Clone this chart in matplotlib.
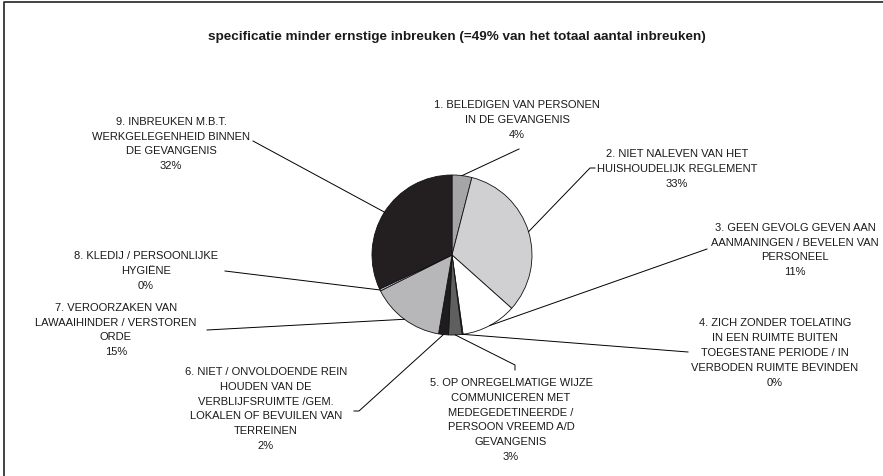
import numpy as np
import matplotlib
matplotlib.use("Agg")
import matplotlib.pyplot as plt

# categories and their share (%) of the minor infringements
categories = [
    "1. BELEDIGEN VAN PERSONEN\nIN DE GEVANGENIS",
    "2. NIET NALEVEN VAN HET\nHUISHOUDELIJK REGLEMENT",
    "3. GEEN GEVOLG GEVEN AAN\nAANMANINGEN / BEVELEN VAN\nPERSONEEL",
    "4. ZICH ZONDER TOELATING\nIN EEN RUIMTE BUITEN\nTOEGESTANE PERIODE / IN\nVERBODEN RUIMTE BEVINDEN",
    "5. OP ONREGELMATIGE WIJZE\nCOMMUNICEREN MET\nMEDEGEDETINEERDE /\nPERSOON VREEMD A/D\nGEVANGENIS",
    "6. NIET / ONVOLDOENDE REIN\nHOUDEN VAN DE\nVERBLIJFSRUIMTE /GEM.\nLOKALEN OF BEVUILEN VAN\nTERREINEN",
    "7. VEROORZAKEN VAN\nLAWAAIHINDER / VERSTOREN\nORDE",
    "8. KLEDIJ / PERSOONLIJKE\nHYGIËNE",
    "9. INBREUKEN M.B.T.\nWERKGELEGENHEID BINNEN\nDE GEVANGENIS",
]
shares = [4.0, 32.6, 11.2, 0.2, 2.7, 2.0, 14.9, 0.4, 32.0]
title = "specificatie minder ernstige inbreuken (=49% van het totaal aantal inbreuken)"

# styling / layout (pixel positions, measured from top-left)
colors = ["#a5a5a8", "#d0d0d2", "#ffffff", "#e6e6e6", "#5f5f5f",
          "#1e1c1d", "#b7b7ba", "#c8c8f0", "#231f20"]
W, H = 883, 477
pie_center = (452, 256)
pie_radius = 80
label_pos = [(517, 120), (677, 169), (795, 250), (775, 353), (511, 420),
             (266, 409), (116, 330), (146, 271), (171, 144)]
leader_end = [(519, 150), (590, 169), (707, 250), (688, 353), (515, 366),
              (359, 412), (207, 331), (225, 272), (253, 142)]
leader_tick = [None, (595, 169), None, None, (515, 371),
               (354, 412), None, None, None]

plt.rcParams['font.family'] = ['Liberation Sans', 'DejaVu Sans']

fig = plt.figure(figsize=(W / 100, H / 100), dpi=100)
ax = fig.add_axes([0, 0, 1, 1])

cx, cy = pie_center[0], H - pie_center[1]
wedges, _ = ax.pie(shares, colors=colors, startangle=90, counterclock=False,
                   center=(cx, cy), radius=pie_radius,
                   wedgeprops=dict(edgecolor="#111111", linewidth=0.6))

ax.set_xlim(0, W)
ax.set_ylim(0, H)
ax.set_aspect("auto")
ax.axis("off")

for w, cat, val, (tx, ty), (ex, ey), tick in zip(
        wedges, categories, shares, label_pos, leader_end, leader_tick):
    mid = np.deg2rad((w.theta1 + w.theta2) / 2)
    px = cx + pie_radius * np.cos(mid)
    py = cy + pie_radius * np.sin(mid)
    xs = [px, ex]
    ys = [py, H - ey]
    if tick is not None:
        xs.append(tick[0])
        ys.append(H - tick[1])
    ax.plot(xs, ys, color="black", linewidth=0.7)
    ax.text(tx, H - ty, f"{cat}\n{round(val)}%", ha="center", va="center",
            multialignment="center", fontsize=8, color="#1a1a1a",
            linespacing=1.62)

ax.text(457, H - 37, title, ha="center", va="center", fontsize=9.7,
        fontweight="bold", color="#1a1a1a")

# frame (top and left edges of the chart area)
ax.plot([4, 4, W], [0, H - 3, H - 3], color="#222222", linewidth=1.2,
        clip_on=False)

fig.savefig("out.png", dpi=100)
